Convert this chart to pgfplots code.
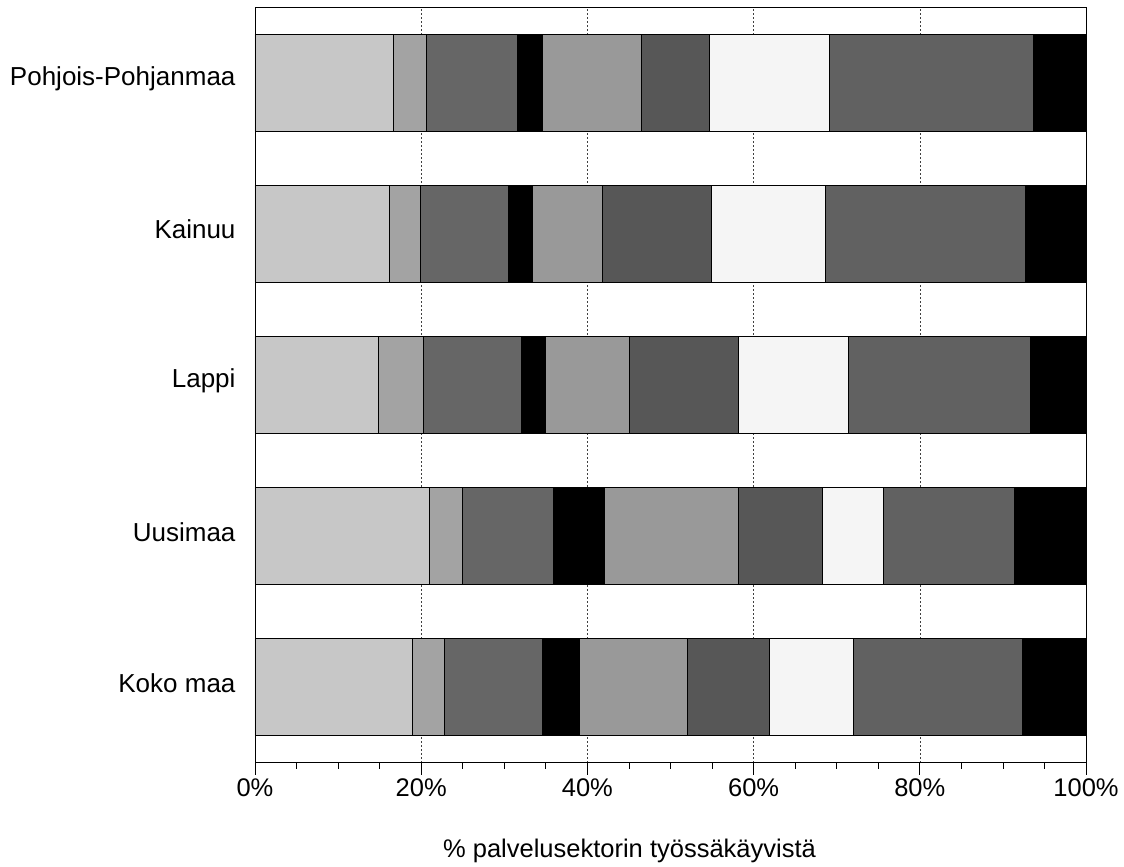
\documentclass[border=0pt]{standalone}
\usepackage{fontspec}
\setmainfont{Liberation Sans}
\usepackage{pgfplots}
\usepackage{pgfplotstable}
\pgfplotsset{compat=1.18}
\pgfplotstableread{
y  s1   s2  s3   s4  s5   s6   s7   s8   s9
0  18.9 3.9 11.8 4.4 13.0 9.9  10.1 20.3 7.7
1  21.0 3.9 11.0 6.1 16.1 10.2 7.3  15.8 8.6
2  14.8 5.5 11.8 2.8 10.2 13.1 13.2 21.9 6.7
3  16.2 3.7 10.6 2.9 8.4  13.1 13.7 24.1 7.3
4  16.6 4.0 11.0 3.0 11.9 8.2  14.4 24.6 6.3
}\data
\begin{document}
\begin{tikzpicture}
\useasboundingbox (-255pt,-104.3pt) rectangle (869pt,762.7pt);
\begin{axis}[
 at={(0pt,0pt)}, anchor=south west,
 scale only axis, width=831pt, height=755.7pt,
 xbar stacked, bar width=97pt,
 xmin=0, xmax=100, ymin=-0.5, ymax=4.5,
 ytick={0,...,4},
 yticklabels={Koko maa,Uusimaa,Lappi,Kainuu,Pohjois-Pohjanmaa},
 ytick style={draw=none},
 ytick pos=left,
 xtick={0,20,...,100},
 xticklabel={\pgfmathprintnumber{\tick}\%},
 minor x tick num=3,
 xtick pos=bottom, tick align=outside,
 major tick length=12pt, minor tick length=6pt,
 xmajorgrids, major grid style={dash pattern=on 2pt off 2pt, black!75, line width=0.6pt},
 xlabel={\% palvelusektorin työssäkäyvistä},
 tick label style={font=\fontsize{25.5}{30}\selectfont},
 label style={font=\fontsize{25.5}{30}\selectfont},
 yticklabel style={font=\fontsize{26}{30}\selectfont, xshift=-4pt, yshift=4pt},
 xlabel style={xshift=-41pt, yshift=-36pt},
 /pgf/number format/assume math mode=true,
 axis line style={line width=0.8pt},
 every tick/.style={black, line width=0.8pt},
]
\addplot[fill=black!22, draw=black, line width=0.6pt] table[x=s1,y=y]{\data};
\addplot[fill=black!36, draw=black, line width=0.6pt] table[x=s2,y=y]{\data};
\addplot[fill=black!60, draw=black, line width=0.6pt] table[x=s3,y=y]{\data};
\addplot[fill=black, draw=black, line width=0.6pt] table[x=s4,y=y]{\data};
\addplot[fill=black!40, draw=black, line width=0.6pt] table[x=s5,y=y]{\data};
\addplot[fill=black!66, draw=black, line width=0.6pt] table[x=s6,y=y]{\data};
\addplot[fill=black!4, draw=black, line width=0.6pt] table[x=s7,y=y]{\data};
\addplot[fill=black!62, draw=black, line width=0.6pt] table[x=s8,y=y]{\data};
\addplot[fill=black, draw=black, line width=0.6pt] table[x=s9,y=y]{\data};
\end{axis}
\end{tikzpicture}
\end{document}
